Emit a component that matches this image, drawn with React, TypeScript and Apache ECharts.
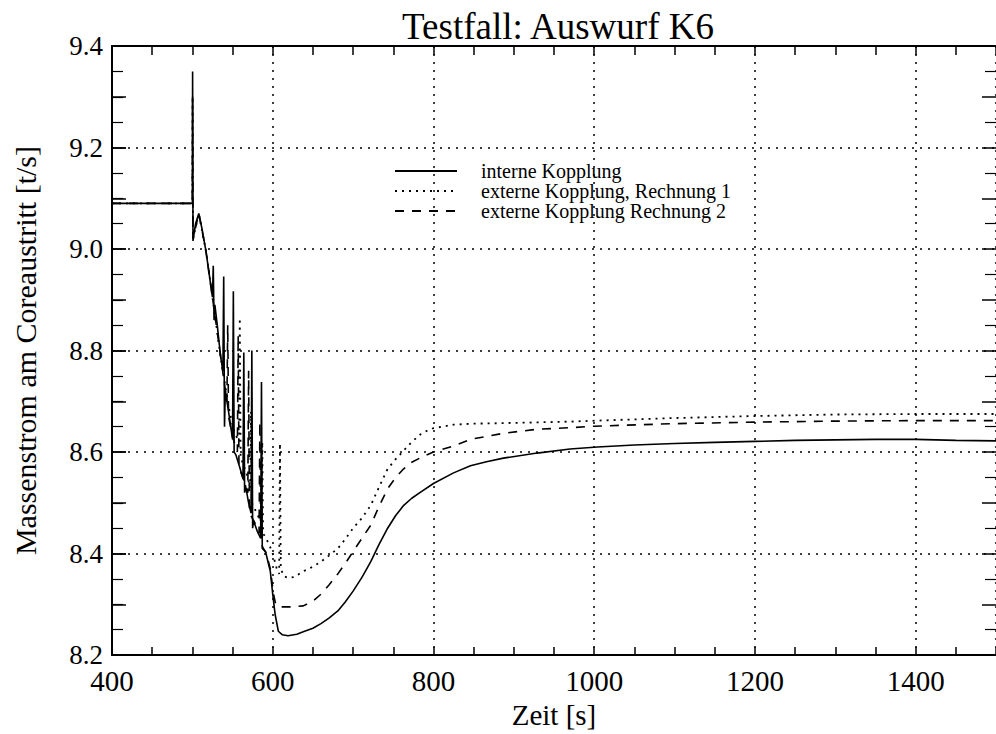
import React, { useEffect, useRef } from "react";
import * as echarts from "echarts";

const FONT = "Liberation Serif";

const titleText = "Testfall: Auswurf K6";
const xName = "Zeit [s]";
const yName = "Massenstrom am Coreaustritt [t/s]";
const seriesNames = [
  "interne Kopplung",
  "externe Kopplung, Rechnung 1",
  "externe Kopplung Rechnung 2",
];

const xMin = 400;
const xMax = 1500;
const yMin = 8.2;
const yMax = 9.4;

// interne Kopplung (solid)
const interneKopplung: number[][] = [
  [400, 9.09], [500, 9.09], [500.3, 9.35], [500.8, 9.016], [504, 9.05], [508, 9.07],
  [512, 9.04], [517, 8.995], [521, 8.95], [525, 8.905], [526, 8.967], [527, 8.86],
  [528, 8.89], [531, 8.85], [535, 8.79], [538, 8.76], [539, 8.946], [540, 8.65],
  [541, 8.72], [545, 8.68], [550, 8.625], [551, 8.917], [552, 8.6], [554, 8.595],
  [558, 8.575], [563, 8.548], [564, 8.796], [565, 8.52], [566, 8.535], [570, 8.5],
  [573, 8.48], [574, 8.8], [575, 8.45], [576, 8.465], [581, 8.443], [585, 8.43],
  [586, 8.738], [587, 8.41], [591, 8.404], [597, 8.365], [600, 8.32], [603, 8.28],
  [607, 8.247], [612, 8.24], [619, 8.238], [630, 8.241], [638, 8.246], [650, 8.253],
  [660, 8.262], [670, 8.273], [681, 8.287], [690, 8.304], [700, 8.326], [711, 8.353],
  [722, 8.384], [732, 8.417], [743, 8.45], [753, 8.475], [763, 8.495], [773, 8.509],
  [784, 8.521], [800, 8.538], [825, 8.559], [846, 8.573], [866, 8.581], [887, 8.588],
  [929, 8.598], [970, 8.606], [1004, 8.61], [1050, 8.614], [1100, 8.617], [1150, 8.619],
  [1200, 8.621], [1250, 8.623], [1300, 8.624], [1350, 8.625], [1400, 8.625],
  [1450, 8.623], [1500, 8.622],
];

// externe Kopplung, Rechnung 1 (dotted)
const rechnung1: number[][] = [
  [400, 9.09], [500, 9.09], [500.3, 9.3], [500.8, 9.02], [508, 9.07], [517, 8.995],
  [525, 8.905], [535, 8.79], [545, 8.69], [552, 8.64], [558, 8.62], [559, 8.864],
  [560, 8.59], [567, 8.56], [572, 8.53], [573, 8.68], [574, 8.5], [580, 8.48],
  [586, 8.46], [587, 8.62], [588, 8.44], [595, 8.42], [600, 8.4], [605, 8.37],
  [608, 8.36], [609, 8.617], [610, 8.37], [614, 8.355], [620, 8.352], [627, 8.354],
  [638, 8.365], [650, 8.374], [660, 8.384], [670, 8.396], [681, 8.41], [690, 8.428],
  [700, 8.45], [711, 8.47], [722, 8.495], [732, 8.53], [743, 8.567], [753, 8.586],
  [763, 8.603], [773, 8.62], [784, 8.635], [792, 8.642], [800, 8.647], [825, 8.654],
  [850, 8.656], [887, 8.657], [970, 8.66], [1004, 8.662], [1100, 8.667], [1200, 8.671],
  [1300, 8.674], [1400, 8.675], [1500, 8.675],
];

// externe Kopplung Rechnung 2 (dashed)
const rechnung2: number[][] = [
  [400, 9.09], [500, 9.09], [500.3, 9.3], [500.8, 9.02], [508, 9.07], [517, 8.995],
  [525, 8.905], [535, 8.79], [543, 8.7], [544, 8.85], [545, 8.67], [550, 8.63],
  [556, 8.6], [557, 8.83], [558, 8.57], [565, 8.54], [569, 8.52], [570, 8.76],
  [571, 8.48], [578, 8.46], [583, 8.44], [584, 8.66], [585, 8.42], [592, 8.4],
  [597, 8.37], [601, 8.32], [604, 8.298], [612, 8.295], [622, 8.295], [638, 8.297],
  [650, 8.306], [660, 8.32], [670, 8.338], [681, 8.36], [690, 8.38], [700, 8.404],
  [711, 8.43], [722, 8.456], [732, 8.492], [743, 8.528], [753, 8.55], [763, 8.567],
  [773, 8.58], [784, 8.589], [800, 8.6], [825, 8.612], [846, 8.625], [887, 8.637],
  [929, 8.645], [970, 8.648], [1000, 8.651], [1100, 8.656], [1200, 8.659],
  [1300, 8.661], [1400, 8.662], [1500, 8.662],
];

export default function App() {
  const ref = useRef<HTMLDivElement>(null);

  useEffect(() => {
    if (!ref.current) return;
    const chart = echarts.init(ref.current, undefined, { renderer: "svg" });
    const black = "#000";
    chart.setOption({
      animation: false,
      backgroundColor: "#fff",
      textStyle: { fontFamily: FONT },
      title: {
        text: titleText,
        left: 553,
        textAlign: "center",
        top: 3,
        textStyle: { fontFamily: FONT, fontSize: 37, fontWeight: "normal", color: black },
      },
      legend: {
        orient: "vertical",
        left: 389,
        top: 156,
        itemWidth: 62,
        itemHeight: 12,
        itemGap: 0,
        data: seriesNames,
        itemStyle: { opacity: 0 },
        textStyle: {
          fontFamily: FONT,
          fontSize: 20,
          lineHeight: 20,
          color: black,
          padding: [0, 0, 0, 19],
        },
      },
      grid: { left: 112, right: -2, top: 46, bottom: 72, containLabel: false },
      xAxis: [
        {
          type: "value",
          position: "bottom",
          min: xMin,
          max: xMax,
          interval: 200,
          name: xName,
          nameLocation: "middle",
          nameGap: 42,
          nameTextStyle: { fontFamily: FONT, fontSize: 29, color: black },
          axisLine: { show: true, lineStyle: { color: black, width: 2 } },
          axisTick: { show: true, inside: true, length: 8, lineStyle: { color: black, width: 1.5 } },
          minorTick: { show: true, splitNumber: 4, length: 8, lineStyle: { color: black, width: 1.5 } },
          axisLabel: {
            margin: 11,
            fontFamily: FONT,
            fontSize: 29,
            color: black,
            showMaxLabel: false,
            formatter: (v: number) => ((v - xMin) % 200 === 0 && v < xMax ? String(v) : ""),
          },
          splitLine: { show: true, lineStyle: { color: black, width: 1.5, type: [2, 6] } },
        },
        {
          type: "value",
          position: "top",
          min: xMin,
          max: xMax,
          interval: 200,
          axisLine: { show: true, lineStyle: { color: black, width: 2 } },
          axisTick: { show: true, inside: true, length: 9, lineStyle: { color: black, width: 1.5 } },
          minorTick: { show: true, splitNumber: 4, length: 9, lineStyle: { color: black, width: 1.5 } },
          axisLabel: { show: false },
          splitLine: { show: false },
        },
      ],
      yAxis: [
        {
          type: "value",
          position: "left",
          min: yMin,
          max: yMax,
          interval: 0.2,
          name: yName,
          nameLocation: "middle",
          nameGap: 72,
          nameRotate: 90,
          nameTextStyle: { fontFamily: FONT, fontSize: 30, color: black },
          axisLine: { show: true, lineStyle: { color: black, width: 2 } },
          axisTick: { show: true, inside: true, length: 14, lineStyle: { color: black, width: 1.5 } },
          minorTick: { show: true, splitNumber: 4, length: 11, lineStyle: { color: black, width: 1.2 } },
          axisLabel: {
            margin: 9,
            fontFamily: FONT,
            fontSize: 27,
            color: black,
            formatter: (v: number) => v.toFixed(1),
          },
          splitLine: { show: true, lineStyle: { color: black, width: 1.5, type: [2, 6] } },
        },
        {
          type: "value",
          position: "left",
          min: yMin,
          max: yMax,
          interval: 0.1,
          axisLine: { show: false },
          axisLabel: { show: false },
          splitLine: { show: false },
          axisTick: { show: true, inside: true, length: 14, lineStyle: { color: black, width: 1.5 } },
        },
        {
          type: "value",
          position: "right",
          min: yMin,
          max: yMax,
          interval: 0.1,
          axisLine: { show: false },
          axisLabel: { show: false },
          splitLine: { show: false },
          axisTick: { show: true, inside: true, length: 14, lineStyle: { color: black, width: 1.5 } },
          minorTick: { show: true, splitNumber: 2, length: 11, lineStyle: { color: black, width: 1.2 } },
        },
      ],
      series: [
        {
          name: seriesNames[0],
          type: "line",
          xAxisIndex: 0,
          yAxisIndex: 0,
          data: interneKopplung,
          symbol: "none",
          lineStyle: { color: black, width: 1.6, type: "solid" },
          itemStyle: { color: black },
        },
        {
          name: seriesNames[1],
          type: "line",
          xAxisIndex: 0,
          yAxisIndex: 0,
          data: rechnung1,
          symbol: "none",
          lineStyle: { color: black, width: 1.8, type: [2, 5] },
          itemStyle: { color: black },
        },
        {
          name: seriesNames[2],
          type: "line",
          xAxisIndex: 0,
          yAxisIndex: 0,
          data: rechnung2,
          symbol: "none",
          lineStyle: { color: black, width: 1.6, type: [9, 8] },
          itemStyle: { color: black },
        },
      ],
    });
    return () => chart.dispose();
  }, []);

  return (
    <div
      ref={ref}
      style={{ position: "fixed", left: 0, top: 0, width: 996, height: 734, background: "#fff" }}
    />
  );
}
